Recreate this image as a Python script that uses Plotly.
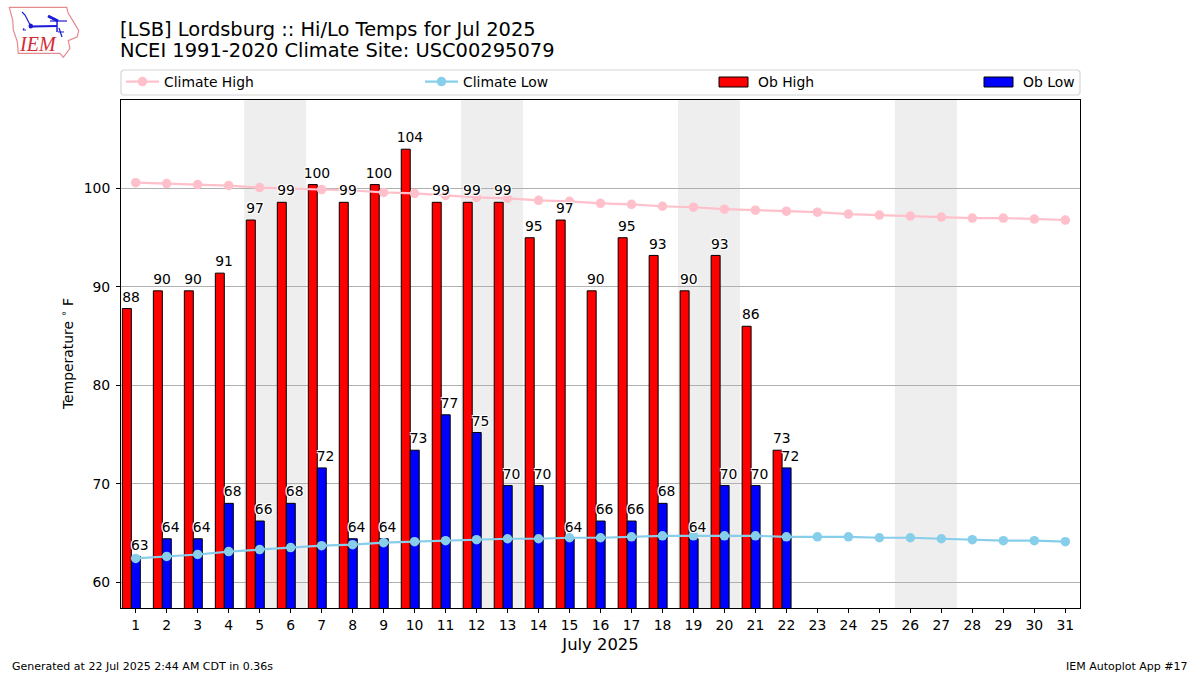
import plotly.graph_objects as go

days = list(range(1, 32))
obs_days = days[:22]
ob_high = [87.8, 89.6, 89.6, 91.4, 96.8, 98.6, 100.4, 98.6, 100.4, 104.0, 98.6, 98.6, 98.6, 95.0, 96.8, 89.6, 95.0, 93.2, 89.6, 93.2, 86.0, 73.4]
ob_low = [62.6, 64.4, 64.4, 68.0, 66.2, 68.0, 71.6, 64.4, 64.4, 73.4, 77.0, 75.2, 69.8, 69.8, 64.4, 66.2, 66.2, 68.0, 64.4, 69.8, 69.8, 71.6]
high_labels = ["88", "90", "90", "91", "97", "99", "100", "99", "100", "104", "99", "99", "99", "95", "97", "90", "95", "93", "90", "93", "86", "73"]
low_labels = ["63", "64", "64", "68", "66", "68", "72", "64", "64", "73", "77", "75", "70", "70", "64", "66", "66", "68", "64", "70", "70", "72"]
climate_high = [100.6, 100.5, 100.4, 100.3, 100.1, 100.0, 99.9, 99.8, 99.6, 99.5, 99.3, 99.1, 99.0, 98.8, 98.7, 98.5, 98.4, 98.2, 98.1, 97.9, 97.8, 97.7, 97.6, 97.4, 97.3, 97.2, 97.1, 97.0, 97.0, 96.9, 96.8]
climate_low = [62.4, 62.6, 62.8, 63.1, 63.3, 63.5, 63.7, 63.8, 64.0, 64.1, 64.2, 64.3, 64.4, 64.4, 64.5, 64.5, 64.6, 64.7, 64.7, 64.7, 64.7, 64.6, 64.6, 64.6, 64.5, 64.5, 64.4, 64.3, 64.2, 64.2, 64.1]
weekends = [(4.5, 6.5), (11.5, 13.5), (18.5, 20.5), (25.5, 27.5)]

FONT = "DejaVu Sans"
LEFT, RIGHT, TOP, BOTTOM = 121, 1080, 100, 608
LABEL_LIFT = 0.35
NOTE_PAD = {"left": -2, "center": 0, "right": 2}  # annotations sit 2px inside their anchor
halo = "-1px -1px 0 #fff, 1px -1px 0 #fff, -1px 1px 0 #fff, 1px 1px 0 #fff"


# paper coordinates from picture pixels, for the decoration outside the axes
def px(x):
    return (x - LEFT) / (RIGHT - LEFT)


def py(y):
    return (BOTTOM - y) / (BOTTOM - TOP)


def poly(points, close=True):
    path = "M" + " L".join(f"{px(x):.4f},{py(y):.4f}" for x, y in points)
    return path + (" Z" if close else "")


def note(x, y, text, anchor="left", size=13.9, color="black", family=FONT, angle=0):
    fig.add_annotation(x=px(x + NOTE_PAD[anchor]), y=py(y), xref="paper", yref="paper", text=text, showarrow=False, textangle=angle,
                       xanchor=anchor, yanchor="middle", font=dict(family=family, size=size, color=color))


fig = go.Figure()

fig.add_bar(x=obs_days, y=ob_high, width=0.29, offset=-0.43, name="Ob High", showlegend=False,
            marker=dict(color="red", line=dict(color="black", width=1)))
fig.add_bar(x=obs_days, y=ob_low, width=0.29, offset=-0.14, name="Ob Low", showlegend=False,
            marker=dict(color="blue", line=dict(color="black", width=1)))

fig.add_scatter(x=days, y=climate_high, mode="lines+markers", name="Climate High", legend="legend",
                line=dict(color="pink", width=2.2), marker=dict(color="pink", size=9.5))
fig.add_scatter(x=days, y=climate_low, mode="lines+markers", name="Climate Low", legend="legend2",
                line=dict(color="skyblue", width=2.2), marker=dict(color="skyblue", size=9.5))

fig.add_scatter(x=[d - 0.15 for d in obs_days], y=[v + LABEL_LIFT for v in ob_high], mode="text", text=high_labels, showlegend=False,
                textposition="top center", textfont=dict(family=FONT, size=13.9, color="black", shadow=halo))
fig.add_scatter(x=[d + 0.13 for d in obs_days], y=[v + LABEL_LIFT for v in ob_low], mode="text", text=low_labels, showlegend=False,
                textposition="top center", textfont=dict(family=FONT, size=13.9, color="black", shadow=halo))

for start, end in weekends:
    fig.add_shape(type="rect", xref="x", yref="paper", x0=start, x1=end, y0=0, y1=1,
                  fillcolor="#eeeeee", line_width=0, layer="below")

# legend frame
fig.add_shape(type="path", xref="paper", yref="paper", line=dict(color="#d6d6d6", width=1.2), fillcolor="white",
              path=poly([(123, 70), (1078, 70), (1080, 72), (1080, 93), (1078, 95), (123, 95), (121, 93), (121, 72)]))

# bar legend keys
for x0, label, color in [(719, "Ob High", "red"), (984, "Ob Low", "blue")]:
    fig.add_shape(type="rect", xref="paper", yref="paper", x0=px(x0), x1=px(x0 + 29), y0=py(87), y1=py(77),
                  fillcolor=color, line=dict(color="black", width=1))
    note(x0 + 39, 82, label)

# IEM logo
LOGO_BLUE = "#1a1ad6"
fig.add_shape(type="path", xref="paper", yref="paper", line=dict(color="#e58a8f", width=1.2),
              path=poly([(9.3, 7.3), (66.7, 7.3), (68.3, 13.3), (74, 22.7), (78.7, 30.7), (77.3, 36.7), (68.3, 40.7), (70, 48.3), (63.3, 57.3), (60, 53.3), (18.3, 53.3), (17.3, 41.7), (13.3, 30), (12.7, 20)]))
logo_strokes = [
    ([(22, 12), (25, 15), (30.7, 26)], 1.2),
    ([(31, 26.5), (57, 26)], 2),
    ([(48, 16), (58, 21)], 3),
    ([(50, 21), (67, 21)], 1.2),
    ([(57, 21), (57, 32)], 1.5),
    ([(59, 28), (62, 37)], 1.2),
    ([(58, 32), (64, 32)], 1),
    ([(24, 28), (23, 30), (26, 30)], 1),
]
for segment, width in logo_strokes:
    fig.add_shape(type="path", xref="paper", yref="paper", line=dict(color=LOGO_BLUE, width=width), path=poly(segment, close=False))
fig.add_shape(type="circle", xref="paper", yref="paper", x0=px(28.5), x1=px(33), y0=py(28.5), y1=py(23.5), fillcolor=LOGO_BLUE, line_width=0)
note(37.7, 44.5, "<i>IEM</i>", anchor="center", size=20, color="#d42a35", family="Liberation Serif")

note(120, 29, "[LSB] Lordsburg :: Hi/Lo Temps for Jul 2025", size=19.45)
note(120, 51, "NCEI 1991-2020 Climate Site: USC00295079", size=19.45)
note(12, 666, "Generated at 22 Jul 2025 2:44 AM CDT in 0.36s", size=11)
note(1188, 666, "IEM Autoplot App #17", anchor="right", size=11)
note(67, 354, "Temperature <sup>∘</sup> F", anchor="center", angle=-90)

fig.update_layout(
    width=1200, height=675,
    margin=dict(l=LEFT, r=1200 - RIGHT, t=TOP, b=675 - BOTTOM, autoexpand=False),
    paper_bgcolor="white", plot_bgcolor="rgba(0,0,0,0)",
    barmode="overlay",
    font=dict(family=FONT, size=13.9, color="black"),
    legend=dict(x=px(121), y=py(82), xanchor="left", yanchor="middle", bgcolor="rgba(0,0,0,0)", itemwidth=33),
    legend2=dict(x=px(420), y=py(82), xanchor="left", yanchor="middle", bgcolor="rgba(0,0,0,0)", itemwidth=33),
)
fig.update_xaxes(range=[0.526, 31.474], tickvals=days, ticks="outside", ticklen=4, tickcolor="black", showgrid=False, zeroline=False,
                 showline=True, mirror=True, linecolor="black", linewidth=1,
                 title=dict(text="July 2025", font=dict(size=16.4), standoff=6))
fig.update_yaxes(range=[57.36, 109.0], tickvals=[60, 70, 80, 90, 100], ticks="outside", ticklen=4, tickcolor="black", showgrid=True, gridcolor="#b0b0b0",
                 gridwidth=1, zeroline=False, showline=True, mirror=True, linecolor="black", linewidth=1, ticklabelstandoff=3)

# the page's default body margin would push the figure 8px off the window
fig.write_html("out.html", config={"displayModeBar": False}, post_script="document.body.style.margin = '0';")
